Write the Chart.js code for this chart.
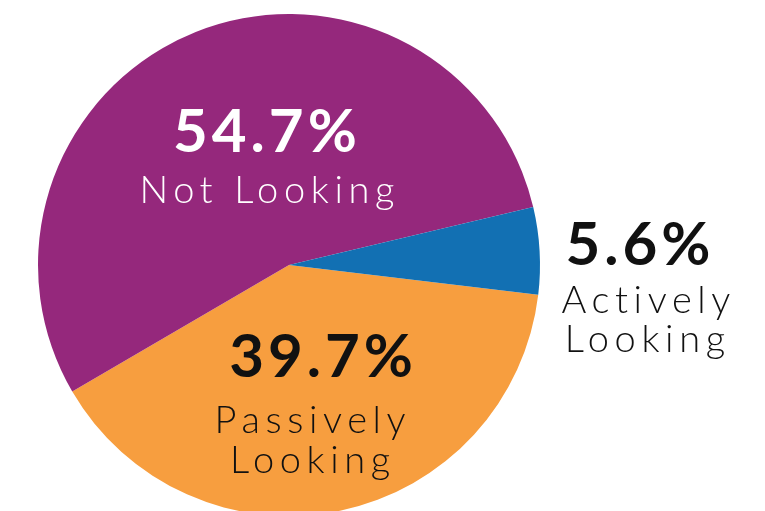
<!DOCTYPE html>
<html>
<head>
<meta charset="utf-8">
<title>Job search status</title>
<script src="https://cdn.jsdelivr.net/npm/chart.js@4/dist/chart.umd.min.js"></script>
<style>
    html, body { margin: 0; padding: 0; background: #fff; overflow: hidden; }
    #wrap { position: absolute; left: 0; top: 0; width: 765px; height: 530px; }
</style>
</head>
<body>
<div id="wrap"><canvas id="myChart"></canvas></div>
<script>
// Share of respondents by job search status
const statusLabels = ["Passively Looking", "Not Looking", "Actively Looking"];
const statusShares = [39.7, 54.7, 5.6];
const sliceColors = ["#f79e3f", "#95287c", "#1270b3"];

// where each slice's text sits, in units of the pie radius from its centre
const textLayout = [
    { color: "#111", lines: [[0.128, 0.446, "num"], [0.084, 0.669, "name", "Passively"], [0.084, 0.829, "name", "Looking"]] },
    { color: "#fff", lines: [[-0.096, -0.450, "num"], [-0.088, -0.247, "name", "Not Looking"]] },
    { color: "#111", lines: [[1.390, 0.0, "num"], [1.422, 0.191, "name", "Actively"], [1.418, 0.347, "name", "Looking"]] }
];

const sliceText = {
    id: "sliceText",
    afterDatasetsDraw(chart) {
        const ctx = chart.ctx;
        const arcs = chart.getDatasetMeta(0).data;
        ctx.save();
        ctx.textAlign = "left";
        ctx.textBaseline = "alphabetic";
        arcs.forEach(function (arc, i) {
            const r = arc.outerRadius;
            const layout = textLayout[i];
            ctx.fillStyle = layout.color;
            layout.lines.forEach(function (line) {
                let text, gap;
                if (line[2] === "num") {
                    ctx.font = "bold 60px Lato";
                    gap = 4;
                    text = statusShares[i].toFixed(1) + "%";
                } else {
                    ctx.font = "300 38px Lato";
                    gap = 5.6;
                    text = line[3];
                }
                ctx.letterSpacing = gap + "px";
                // centre the ink, not the trailing letter gap
                const w = ctx.measureText(text).width - gap;
                ctx.fillText(text, arc.x + line[0] * r - w / 2, arc.y + line[1] * r);
            });
        });
        ctx.restore();
    }
};

new Chart(document.getElementById("myChart"), {
    type: "pie",
    data: {
        labels: statusLabels,
        datasets: [{
            data: statusShares,
            backgroundColor: sliceColors,
            borderWidth: 0
        }]
    },
    options: {
        responsive: true,
        maintainAspectRatio: false,
        animation: false,
        rotation: 96.8,
        layout: { padding: { left: 38, top: 14, right: 225, bottom: 14 } },
        plugins: {
            legend: { display: false },
            tooltip: { enabled: false }
        }
    },
    plugins: [sliceText]
});
</script>
</body>
</html>
